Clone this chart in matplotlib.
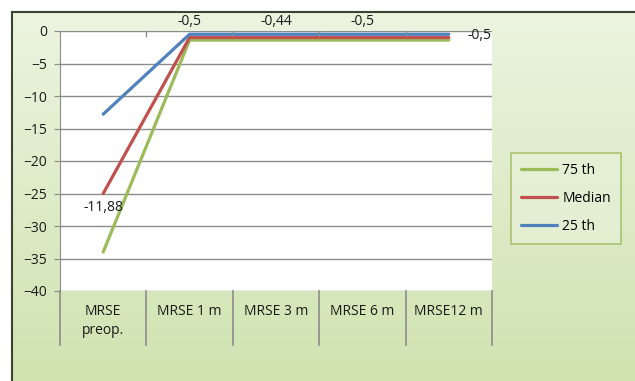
import numpy as np
import matplotlib.pyplot as plt
from matplotlib.lines import Line2D

plt.rcParams['font.family'] = ['Open Sans', 'DejaVu Sans']

categories = ['MRSE\npreop.', 'MRSE 1 m', 'MRSE 3 m', 'MRSE 6 m', 'MRSE12 m']
p75 = [-34.0, -1.4, -1.4, -1.4, -1.4]
median = [-25.0, -1.0, -1.0, -1.0, -1.0]
p25 = [-12.8, -0.5, -0.5, -0.5, -0.5]
# data labels as printed on the chart (series 25 th)
label_text = ['-11,88', '-0,5', '-0,44', '-0,5', '-0,5']
label_y = [-25.0, -0.5, -0.5, -0.5, -0.5]

fig = plt.figure(figsize=(6.35, 3.81), dpi=100)

# green gradient panel behind everything
bg = fig.add_axes([12/635, 0, 1 - 12/635, 1 - 12/381], zorder=-10)
grad = np.linspace(0, 1, 200)[:, None]
top = np.array([236, 244, 224]) / 255
bot = np.array([208, 227, 176]) / 255
img = top[None, None, :] * (1 - grad[:, :, None]) + bot[None, None, :] * grad[:, :, None]
bg.imshow(img, aspect='auto', extent=[0, 1, 0, 1])
bg.set_axis_off()
fig.add_artist(Line2D([12/635, 12/635], [0, 1 - 12/381], color='#3b4430', lw=1.5))
fig.add_artist(Line2D([12/635, 1], [1 - 12/381, 1 - 12/381], color='#3b4430', lw=1.5))

ax = fig.add_axes([60/635, 90/381, (492 - 60)/635, (291 - 31)/381])
ax.set_facecolor('white')
x = np.arange(len(categories))
ax.set_xlim(-0.5, len(categories) - 0.5)
ax.set_ylim(-40, 0)
ax.set_yticks(np.arange(-40, 1, 5))
ax.yaxis.grid(True, color='#8c8c8c', lw=1)
ax.set_axisbelow(True)
for s in ['top', 'right', 'bottom']:
    ax.spines[s].set_visible(False)
ax.spines['left'].set_color('#8c8c8c')
ax.tick_params(axis='y', length=4, color='#8c8c8c', labelsize=10, labelcolor='#1a1a1a', pad=5)
ax.set_xticks([])

ax.plot(x, p75, color='#9bbb59', lw=2.3, solid_capstyle='round', label='75 th')
ax.plot(x, median, color='#c0504d', lw=2.3, solid_capstyle='round', label='Median')
ax.plot(x, p25, color='#4f81bd', lw=2.3, solid_capstyle='round', label='25 th')

# small category ticks on the zero line
for b in np.arange(0.5, len(categories) - 0.5, 1):
    ax.plot([b, b], [0, -0.8], color='#8c8c8c', lw=1, clip_on=False)

# category labels and dividers below plot area
trans = ax.get_xaxis_transform()
for b in np.arange(-0.5, len(categories), 1):
    ax.plot([b, b], [0, -54/260], color='#8c8c8c', lw=1.2, transform=trans, clip_on=False)
for xi, c in zip(x, categories):
    ax.text(xi, -13/260, c, transform=trans, ha='center', va='top', fontsize=10,
            color='#1a1a1a', linespacing=1.35)

offsets = [(0, -10), (0, 9), (0, 9), (0, 9), (22, -1)]
for xi, yi, t, off in zip(x, label_y, label_text, offsets):
    ax.annotate(t, (xi, yi), xytext=off, textcoords='offset points', ha='center',
                va='center', fontsize=10, color='#1a1a1a', annotation_clip=False)

leg = fig.legend(loc='upper left', bbox_to_anchor=(511/635, 1 - 153/381), frameon=True,
                 fontsize=10, handlelength=2.6, handletextpad=0.4, labelspacing=0.95,
                 borderpad=0.7, borderaxespad=0)
leg.get_frame().set_facecolor('#e6f0d6')
leg.get_frame().set_edgecolor('#9bbb59')
leg.get_frame().set_linewidth(1.2)
leg.get_frame().set_boxstyle('square', pad=0)

fig.savefig('out.png', dpi=100)
